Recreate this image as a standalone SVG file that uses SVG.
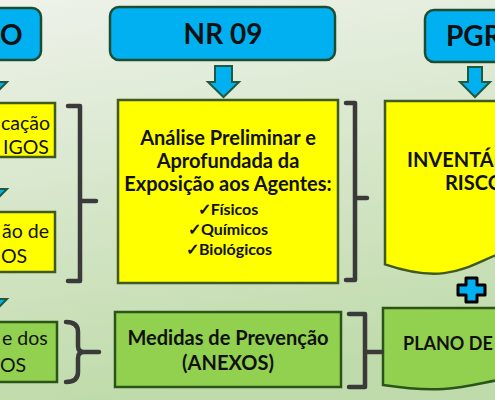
<svg xmlns="http://www.w3.org/2000/svg" width="495" height="400" viewBox="0 0 495 400">
<defs>
<linearGradient id="bg" x1="0" y1="0" x2="0.2" y2="1">
<stop offset="0" stop-color="#eef2ea"/>
<stop offset="1" stop-color="#c0dbab"/>
</linearGradient>
<style>
.blue{fill:#00b0f0;stroke:#1d4e33;stroke-width:2.5}
.yel{fill:#ffff00;stroke:#3f5a1c;stroke-width:2.5}
.grn{fill:#92d050;stroke:#2b5518;stroke-width:2.5}
.arr{fill:#00b0f0;stroke:#1f5a40;stroke-width:2;stroke-linejoin:miter}
.br{fill:none;stroke:#3a3a3a;stroke-width:4.5;stroke-linecap:round;stroke-linejoin:round}
.t{font-family:Lato,"Liberation Sans",sans-serif;fill:#111}
.b{font-weight:bold;font-size:20px}
.hd{font-size:28px;font-weight:bold}
.bx{font-size:19.5px}
.ck{font-size:16px;font-weight:bold}
</style>
</defs>
<rect width="495" height="400" fill="url(#bg)"/>

<g id="left-head">
<rect class="blue" x="-60" y="8" width="101" height="52" rx="9"/>
<text class="t hd" x="0" y="45">O</text>
</g>
<g id="left-box1">
<rect class="yel" x="-100" y="103" width="155" height="54"/>
<text class="t bx" x="1" y="130">cação</text>
<text class="t bx" x="3" y="154">IGOS</text>
</g>
<g id="left-box2">
<rect class="yel" x="-100" y="212" width="155" height="60"/>
<text class="t bx" x="2" y="238">ão de</text>
<text class="t bx" x="1" y="263">OS</text>
</g>
<g id="left-box3">
<rect class="grn" x="-100" y="322" width="157" height="60"/>
<text class="t bx" x="2" y="345">e dos</text>
<text class="t bx" x="0" y="372">OS</text>
</g>

<g id="nr09">
<rect class="blue" x="110" y="7" width="225" height="53" rx="9"/>
<text class="t hd" x="223" y="44" text-anchor="middle">NR 09</text>
</g>
<g id="analise">
<rect class="yel" x="118" y="100" width="220" height="183"/>
<text class="t b" x="228" y="145" text-anchor="middle">Análise Preliminar e</text>
<text class="t b" x="228" y="168" text-anchor="middle">Aprofundada da</text>
<text class="t b" x="228" y="191" text-anchor="middle">Exposição aos Agentes:</text>
<text class="t ck" x="228" y="215" text-anchor="middle">✓Físicos</text>
<text class="t ck" x="228" y="235" text-anchor="middle">✓Químicos</text>
<text class="t ck" x="229" y="255" text-anchor="middle">✓Biológicos</text>
</g>
<g id="medidas">
<rect class="grn" x="115" y="312" width="226" height="75"/>
<text class="t b" x="228" y="345" text-anchor="middle">Medidas de Prevenção</text>
<text class="t b" x="228" y="370" text-anchor="middle">(ANEXOS)</text>
</g>

<g id="pgr">
<rect class="blue" x="425" y="10" width="110" height="52" rx="9"/>
<text class="t hd" x="446" y="46">PGR</text>
</g>
<g id="inventario">
<path class="yel" d="M385,101 H565 V241.3 C475,241.3 475,294.8 385,264.4 Z"/>
<text class="t b" x="407" y="167">INVENTÁR</text>
<text class="t b" x="445" y="190">RISCO</text>
</g>
<g id="plus">
<path d="M466,278 H477 V285 H485 V295 H477 V302 H466 V295 H458 V285 H466 Z" fill="#00b0f0" stroke="#000" stroke-width="3" stroke-linejoin="round"/>
</g>
<g id="plano">
<path class="grn" d="M383,308 H565 V374 C475,374 475,399 383,385 Z"/>
<text class="t" x="403" y="350" style="font-size:18px;font-weight:bold">PLANO DE</text>
</g>

<g id="connectors">
<path class="arr" d="M-16,66 H-1 V82 H7 L-8,97 L-23,82 H-16 Z"/>
<path class="arr" d="M-16,172 H-1 V189 H7 L-8,204 L-23,189 H-16 Z"/>
<path class="arr" d="M-16,284 H-1 V299 H7 L-8,314 L-23,299 H-16 Z"/>
<path class="arr" d="M215,66 H232 V82 H239 L223.5,97 L208,82 H215 Z"/>
<path class="arr" d="M468,67 H482 V82 H490 L475,97 L460,82 H468 Z"/>
<path class="br" d="M68,106 H80 V281 H68 M80,201 H96"/>
<path class="br" d="M66,322 Q78,322 78,332 V346 Q78,352 84,352 Q78,352 78,358 V372 Q78,382 66,382 M82,352 H99"/>
<path class="br" d="M346,103 H355 V280 H346 M355,198 H367"/>
<path class="br" d="M349,314 H365 V387 H349 M365,352 H382"/>
</g>
</svg>
